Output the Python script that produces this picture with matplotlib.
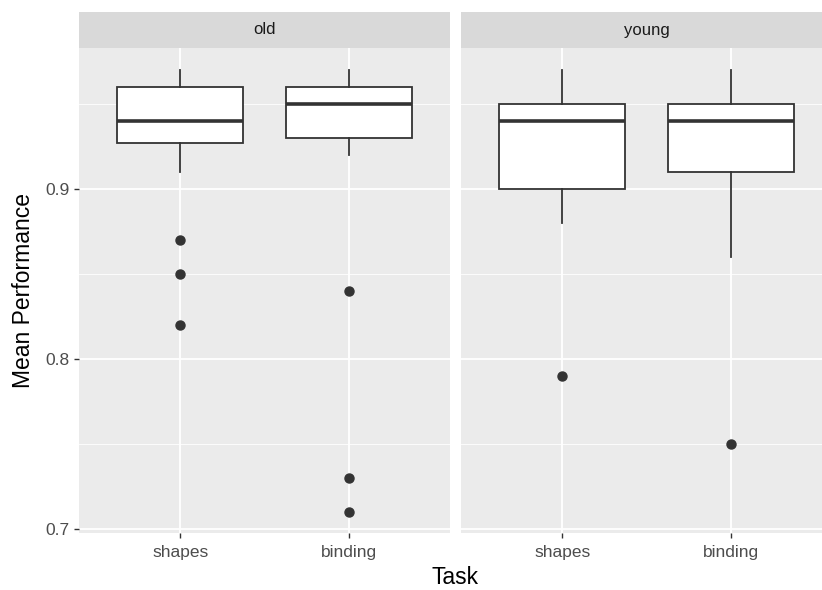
import matplotlib.pyplot as plt

# --------------------------------------------------
# Data (box statistics)
# --------------------------------------------------
tasks = ["shapes", "binding"]
groups = ["old", "young"]

old_whislo = [0.91, 0.92]
old_q1 = [0.927, 0.93]
old_med = [0.94, 0.95]
old_q3 = [0.96, 0.96]
old_whishi = [0.97, 0.97]
old_fliers = [[0.87, 0.85, 0.82], [0.84, 0.73, 0.71]]

young_whislo = [0.88, 0.86]
young_q1 = [0.90, 0.91]
young_med = [0.94, 0.94]
young_q3 = [0.95, 0.95]
young_whishi = [0.97, 0.97]
young_fliers = [[0.79], [0.75]]

y_ticks = [0.7, 0.8, 0.9]
y_minor = [0.75, 0.85, 0.95]


def make_stats(whislo, q1, med, q3, whishi, fliers):
    return [dict(whislo=a, q1=b, med=c, q3=d, whishi=e, fliers=f, label=t)
            for a, b, c, d, e, f, t in zip(whislo, q1, med, q3, whishi, fliers, tasks)]


stats = {
    "old": make_stats(old_whislo, old_q1, old_med, old_q3, old_whishi, old_fliers),
    "young": make_stats(young_whislo, young_q1, young_med, young_q3, young_whishi, young_fliers),
}

# --------------------------------------------------
# Figure layout (ggplot-ish facets)
# --------------------------------------------------
plt.rcParams["font.family"] = ["Liberation Sans", "DejaVu Sans"]
W, H = 822, 590
fig = plt.figure(figsize=(W / 100, H / 100), dpi=100)

panel_w = 371 / W
panel_b = (H - 533) / H
panel_h = (533 - 48) / H
strip_h = 36 / H
lefts = [79 / W, 461 / W]

dark = "#333333"
for i, g in enumerate(groups):
    ax = fig.add_axes([lefts[i], panel_b, panel_w, panel_h])
    ax.set_facecolor("#EBEBEB")
    for s in ax.spines.values():
        s.set_visible(False)

    ax.bxp(stats[g], positions=[1, 2], widths=0.75, showcaps=False,
           patch_artist=True,
           boxprops=dict(facecolor="white", edgecolor=dark, linewidth=1.3),
           medianprops=dict(color=dark, linewidth=2.6),
           whiskerprops=dict(color=dark, linewidth=1.3),
           flierprops=dict(marker="o", markerfacecolor=dark, markeredgecolor=dark,
                           markersize=6.5))

    ax.set_xlim(0.4, 2.6)
    ax.set_ylim(0.6976, 0.983)
    ax.set_xticks([1, 2])
    ax.set_xticklabels(tasks)
    ax.set_yticks(y_ticks)
    ax.set_yticks(y_minor, minor=True)
    ax.grid(True, which="major", color="white", linewidth=1.3)
    ax.grid(True, which="minor", axis="y", color="white", linewidth=0.6)
    ax.set_axisbelow(True)
    ax.tick_params(axis="both", which="major", colors=dark, length=3.5, width=1,
                   labelsize=12.5, labelcolor="#4D4D4D", pad=3)
    ax.tick_params(axis="x", which="major", pad=5)
    ax.tick_params(axis="y", which="minor", length=0)
    if i == 0:
        ax.set_yticklabels([f"{v:.1f}" for v in y_ticks])
    else:
        ax.tick_params(axis="y", which="major", left=False, labelleft=False)

    # facet strip
    sax = fig.add_axes([lefts[i], panel_b + panel_h, panel_w, strip_h])
    sax.set_facecolor("#D9D9D9")
    sax.set_xticks([])
    sax.set_yticks([])
    for s in sax.spines.values():
        s.set_visible(False)
    sax.text(0.5, 0.5, g, ha="center", va="center", fontsize=12,
             color="#1A1A1A", transform=sax.transAxes)

fig.text(455 / W, 1 - 578 / H, "Task", ha="center", va="center", fontsize=16.5)
fig.text(24 / W, 1 - 291 / H, "Mean Performance", ha="center", va="center",
         rotation=90, fontsize=16.5)

fig.savefig("out.png", dpi=100)
